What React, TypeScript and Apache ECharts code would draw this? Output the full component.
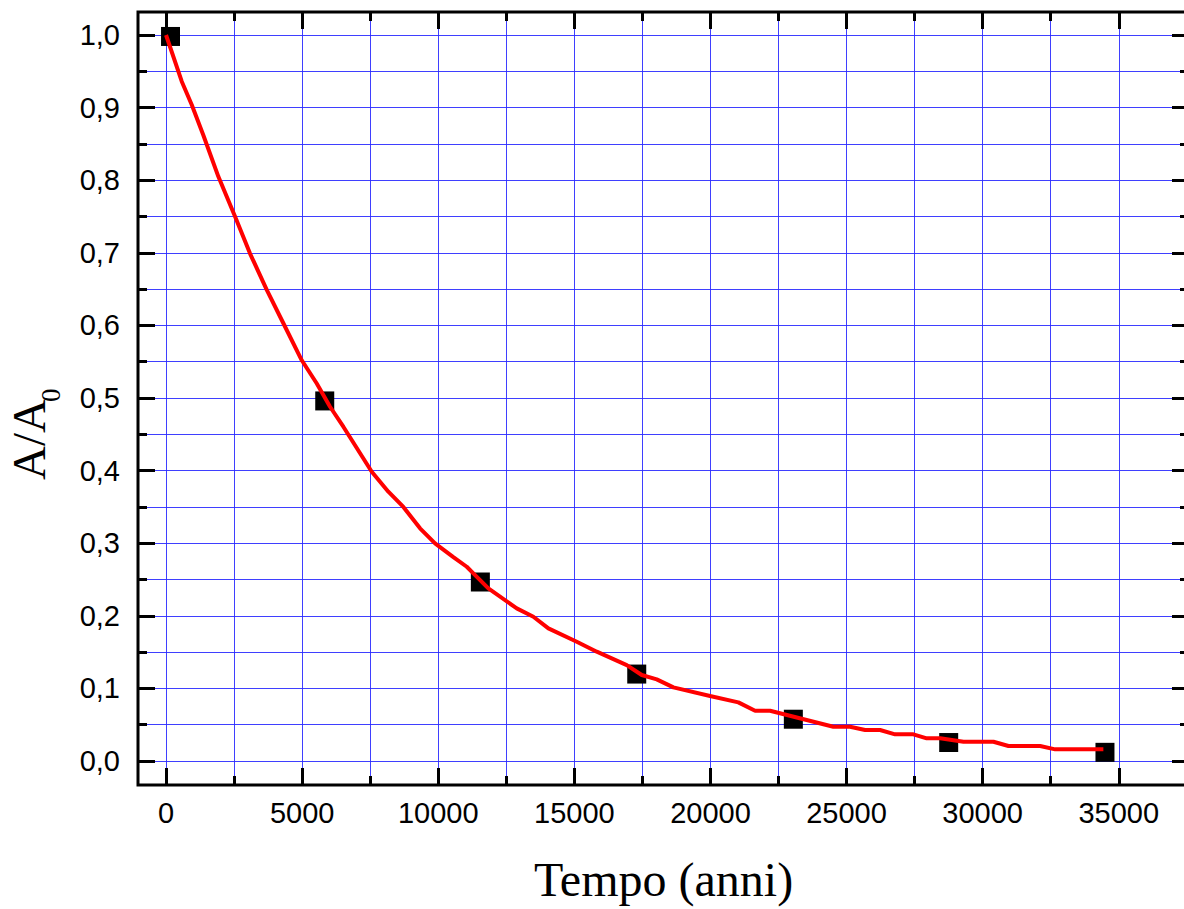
import React, { useEffect, useRef } from "react";
import * as echarts from "echarts";

// Measured points (years, A/A0)
const pointYears = [165, 5830, 11547, 17292, 23045, 28752, 34493];
const pointRatios = [0.998, 0.496, 0.2466, 0.1198, 0.0576, 0.0255, 0.012];

// Fitted curve
const curveYears = [
  0, 577, 944, 1371, 1922, 2535, 3086, 3700, 4310, 4986, 5537, 6025, 6514, 7557, 8167,
  8718, 9331, 9882, 10555, 11047, 11290, 11841, 12884, 13495, 14046, 15088, 15823, 16925,
  17476, 18027, 18638, 19985, 21025, 21639, 22190, 24514, 25129, 25680, 26231, 26782,
  27455, 27945, 28438, 29295, 30397, 30948, 32113, 32664, 34434,
];
const curveRatios = [
  1.0, 0.936, 0.904, 0.862, 0.805, 0.75, 0.699, 0.649, 0.603, 0.552, 0.52, 0.488, 0.4605,
  0.3985, 0.371, 0.35, 0.3205, 0.2999, 0.281, 0.2676, 0.2585, 0.2378, 0.2103, 0.1988,
  0.1828, 0.1643, 0.1506, 0.1322, 0.1185, 0.1125, 0.1015, 0.0895, 0.0808, 0.0693, 0.0693,
  0.0472, 0.0472, 0.0427, 0.0427, 0.0368, 0.0368, 0.0313, 0.0313, 0.0266, 0.0266, 0.0207,
  0.0207, 0.0161, 0.0161,
];

// Tick values
const xMajorTicks = [0, 5000, 10000, 15000, 20000, 25000, 30000, 35000];
const xAllTicks = [
  0, 2500, 5000, 7500, 10000, 12500, 15000, 17500, 20000, 22500, 25000, 27500, 30000,
  32500, 35000, 37500,
];
const yMajorTicks = [0, 0.1, 0.2, 0.3, 0.4, 0.5, 0.6, 0.7, 0.8, 0.9, 1.0];
const yAllTicks = [
  0, 0.05, 0.1, 0.15, 0.2, 0.25, 0.3, 0.35, 0.4, 0.45, 0.5, 0.55, 0.6, 0.65, 0.7, 0.75,
  0.8, 0.85, 0.9, 0.95, 1.0,
];

const X_MIN = -1030;
const X_MAX = 37580;
const Y_MIN = -0.033;
const Y_MAX = 1.0317;

const SANS = "'Liberation Sans', Arial, sans-serif";
const SERIF = "'Liberation Serif', 'Times New Roman', serif";
const GRID_COLOR = "#2a2aff";

function tickAxis(
  kind: "x" | "y",
  position: string,
  ticks: number[],
  length: number,
  labels: number[] | null,
  withSplit: boolean,
  extra: any = {}
) {
  return {
    type: "value",
    position,
    min: kind === "x" ? X_MIN : Y_MIN,
    max: kind === "x" ? X_MAX : Y_MAX,
    axisLine: { show: false, onZero: false },
    axisTick: {
      show: true,
      inside: true,
      length,
      customValues: ticks,
      lineStyle: { color: "#000", width: 3 },
    },
    axisLabel: labels
      ? {
          show: true,
          customValues: labels,
          color: "#000",
          fontFamily: SANS,
          fontSize: 29,
          margin: kind === "x" ? 13 : 18,
          formatter:
            kind === "x"
              ? (v: number) => String(v)
              : (v: number) => v.toFixed(1).replace(".", ","),
        }
      : { show: false },
    splitLine: {
      show: withSplit,
      lineStyle: { color: GRID_COLOR, width: 1, opacity: 0.9 },
    },
    minorTick: { show: false },
    minorSplitLine: { show: false },
    axisPointer: { show: false },
    ...extra,
  };
}

export default function App() {
  const ref = useRef<HTMLDivElement>(null);

  useEffect(() => {
    if (!ref.current) return;
    const chart = echarts.init(ref.current, undefined, { renderer: "svg" });
    const option: any = {
      animation: false,
      backgroundColor: "#fff",
      grid: {
        left: 138,
        top: 12,
        width: 1051,
        height: 773,
        show: true,
        borderColor: "#000",
        borderWidth: 3,
        backgroundColor: "transparent",
        z: 5,
      },
      xAxis: [
        // minor ticks + all grid lines + labels (bottom)
        tickAxis("x", "bottom", xAllTicks, 9, xMajorTicks, true, {
          name: "Tempo (anni)",
          nameLocation: "middle",
          nameGap: 94,
          nameTextStyle: {
            fontFamily: SERIF,
            fontSize: 48,
            color: "#000",
            verticalAlign: "middle",
          },
        }),
        tickAxis("x", "bottom", xMajorTicks, 17, null, false),
        tickAxis("x", "top", xAllTicks, 9, null, false),
        tickAxis("x", "top", xMajorTicks, 17, null, false),
      ],
      yAxis: [
        tickAxis("y", "left", yAllTicks, 9, yMajorTicks, true),
        tickAxis("y", "left", yMajorTicks, 17, null, false),
        tickAxis("y", "right", yAllTicks, 9, null, false),
        tickAxis("y", "right", yMajorTicks, 17, null, false),
      ],
      graphic: [
        {
          type: "group",
          x: 29,
          y: 480,
          rotation: Math.PI / 2,
          children: [
            {
              type: "text",
              x: 0,
              y: 0,
              style: {
                text: "A/A",
                fontFamily: SERIF,
                fontSize: 47,
                fill: "#000",
                align: "left",
                verticalAlign: "middle",
                textAlign: "left",
                textVerticalAlign: "middle",
              },
            },
            {
              type: "text",
              x: 78,
              y: 22,
              style: {
                text: "0",
                fontFamily: SERIF,
                fontSize: 27,
                fill: "#000",
                align: "left",
                verticalAlign: "middle",
                textAlign: "left",
                textVerticalAlign: "middle",
              },
            },
          ],
        },
      ],
      series: [
        {
          type: "scatter",
          xAxisIndex: 0,
          yAxisIndex: 0,
          symbol: "rect",
          symbolSize: 19,
          itemStyle: { color: "#000", opacity: 1 },
          data: pointYears.map((x, i) => [x, pointRatios[i]]),
          z: 3,
        },
        {
          type: "line",
          xAxisIndex: 0,
          yAxisIndex: 0,
          showSymbol: false,
          symbol: "none",
          lineStyle: { color: "#ff0000", width: 4 },
          data: curveYears.map((x, i) => [x, curveRatios[i]]),
          z: 4,
        },
      ],
    };
    chart.setOption(option);
    return () => chart.dispose();
  }, []);

  return (
    <div
      style={{
        position: "absolute",
        left: 0,
        top: 0,
        width: 1184,
        height: 909,
        overflow: "hidden",
        background: "#fff",
      }}
    >
      <div ref={ref} style={{ width: 1196, height: 909 }} />
    </div>
  );
}
